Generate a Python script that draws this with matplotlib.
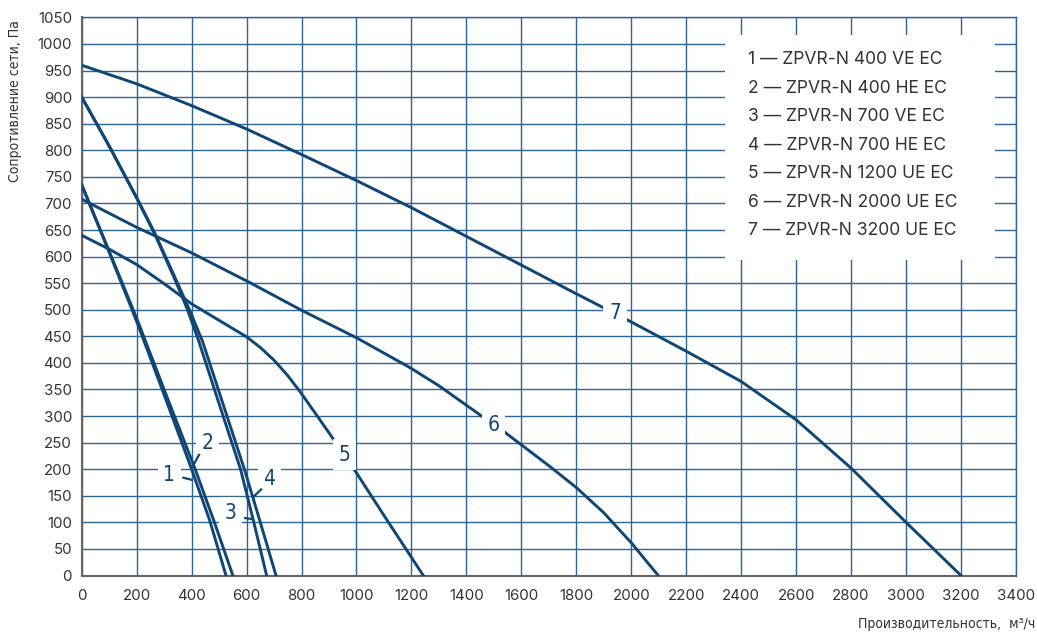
import matplotlib.pyplot as plt
from matplotlib.patches import Rectangle

# fan curves: airflow m3/h -> pressure Pa
x1 = [0, 100, 200, 300, 400, 465, 525]
y1 = [735, 608, 478, 340, 200, 105, 0]
x2 = [0, 100, 200, 311, 413, 483, 550]
y2 = [735, 610, 484, 335, 200, 100, 0]
x3 = [0, 100, 200, 267, 340, 385, 424, 495, 578, 624, 673]
y3 = [900, 808, 710, 641, 556, 500, 444, 331, 200, 105, 0]
x4 = [0, 100, 200, 267, 340, 392, 440, 509, 595, 650, 707]
y4 = [900, 808, 711, 643, 560, 500, 440, 331, 195, 100, 0]
x5 = [0, 100, 200, 300, 400, 500, 600, 650, 700, 750, 800, 860, 922, 1000, 1100, 1200, 1243]
y5 = [640, 614, 585, 549, 511, 480, 449, 429, 405, 376, 342, 298, 252, 193, 113, 34, 0]
x6 = [0, 200, 400, 612, 800, 1001, 1195, 1300, 1450, 1541, 1704, 1801, 1900, 2001, 2098]
y6 = [708, 655, 607, 551, 499, 447, 391, 357, 302, 269, 205, 165, 118, 61, 0]
x7 = [0, 200, 400, 600, 800, 1000, 1200, 1400, 1600, 1800, 2000, 2200, 2400, 2600, 2800, 3000, 3200]
y7 = [960, 925, 884, 840, 792, 743, 692, 638, 584, 530, 477, 422, 365, 293, 202, 100, 0]

curves = [(x1, y1), (x2, y2), (x3, y3), (x4, y4), (x5, y5), (x6, y6), (x7, y7)]
models = ["ZPVR-N 400 VE EC", "ZPVR-N 400 HE EC", "ZPVR-N 700 VE EC", "ZPVR-N 700 HE EC",
          "ZPVR-N 1200 UE EC", "ZPVR-N 2000 UE EC", "ZPVR-N 3200 UE EC"]

# number labels on the curves and their short leader lines
tag_pos = [(319, 190), (457, 250), (542, 118), (683, 182), (956, 227), (1498, 284), (1941, 494)]
tag_lead = [((370, 184), (400, 180)), ((427, 227), (409, 210)), ((595, 108), (622, 106)),
            ((653, 162), (627, 149)), None, None, None]

navy = "#0f4675"
gridc = "#2f6594"

fig = plt.figure(figsize=(10.37, 6.35), dpi=100)
ax = fig.add_axes([0.0788, 0.0937, 0.9009, 0.8789])

ax.set_xlim(0, 3400)
ax.set_ylim(0, 1050)
ax.set_xticks(range(0, 3401, 200))
ax.set_yticks(range(0, 1051, 50))
ax.set_axisbelow(True)
ax.grid(True, color=gridc, lw=1.0)
ax.tick_params(length=0, labelsize=10.8, labelcolor="#333333")
ax.tick_params(axis="x", pad=10)
ax.tick_params(axis="y", pad=7)
for lab in ax.get_xticklabels() + ax.get_yticklabels():
    lab.set_family("Inter")

for side in ["left", "bottom"]:
    ax.spines[side].set_color("#666666")
    ax.spines[side].set_linewidth(1.5)
for side in ["top", "right"]:
    ax.spines[side].set_color(gridc)
    ax.spines[side].set_linewidth(1.0)

for xs, ys in curves:
    ax.plot(xs, ys, color=navy, lw=2.1, zorder=3, solid_joinstyle="round")

for i, (tx, ty) in enumerate(tag_pos):
    ax.text(tx, ty, str(i + 1), family="DejaVu Sans", fontstretch="condensed", fontsize=15,
            color=navy, ha="center", va="center", zorder=5,
            bbox=dict(facecolor="white", edgecolor="none", pad=4))
    lead = tag_lead[i]
    if lead is not None:
        ax.plot([lead[0][0], lead[1][0]], [lead[0][1], lead[1][1]], color=navy, lw=1.6, zorder=6)

# white box behind the model list
ax.add_patch(Rectangle((2341, 594), 982, 423, facecolor="white", edgecolor="none", zorder=2))
for i, m in enumerate(models):
    ax.text(2424, 970 - i * 53.5, "%d \u2014 %s" % (i + 1, m), family="Inter", fontsize=12.6,
            color="#333333", ha="left", va="center", zorder=4)

fig.text(0.0145, 0.968, "Сопротивление сети, Па", rotation=90, ha="center", va="top",
         family="DejaVu Sans", fontstretch="condensed", fontsize=10, color="#333333")
fig.text(0.998, 0.017, "Производительность,  м³/ч", ha="right", va="center",
         family="DejaVu Sans", fontstretch="condensed", fontsize=10, color="#333333")

fig.savefig("out.png", dpi=100)
